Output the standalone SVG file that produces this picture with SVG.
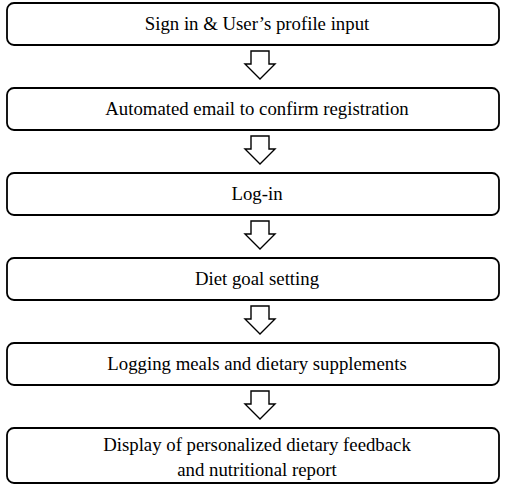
<svg xmlns="http://www.w3.org/2000/svg" width="510" height="489" viewBox="0 0 510 489">
<style>
.box{fill:#fff;stroke:#000;stroke-width:1.8}
.arr{fill:#fff;stroke:#000;stroke-width:1.4;stroke-linejoin:miter}
text{font-family:"Liberation Serif","Times New Roman",serif;font-size:18.8px;fill:#000;text-anchor:middle}
</style>
<defs>
<path id="a" d="M251,0 H269 V13 H275 L260,28 L245,13 H251 Z"/>
</defs>
<rect width="510" height="489" fill="#fff"/>
<g id="connectors">
<use href="#a" class="arr" y="51"/>
<use href="#a" class="arr" y="136"/>
<use href="#a" class="arr" y="221"/>
<use href="#a" class="arr" y="306"/>
<use href="#a" class="arr" y="391"/>
</g>
<g id="n1"><rect class="box" x="7" y="3" width="492" height="42" rx="7"/><text x="257" y="30">Sign in &amp; User’s profile input</text></g>
<g id="n2"><rect class="box" x="7" y="88" width="492" height="42" rx="7"/><text x="257" y="115">Automated email to confirm registration</text></g>
<g id="n3"><rect class="box" x="7" y="173" width="492" height="42" rx="7"/><text x="257" y="200">Log-in</text></g>
<g id="n4"><rect class="box" x="7" y="258" width="492" height="42" rx="7"/><text x="257" y="285">Diet goal setting</text></g>
<g id="n5"><rect class="box" x="7" y="343" width="492" height="42" rx="7"/><text x="257" y="370">Logging meals and dietary supplements</text></g>
<g id="n6"><rect class="box" x="7" y="428" width="492" height="55" rx="7"/><text x="257" y="451">Display of personalized dietary feedback</text><text x="257" y="476">and nutritional report</text></g>
</svg>
